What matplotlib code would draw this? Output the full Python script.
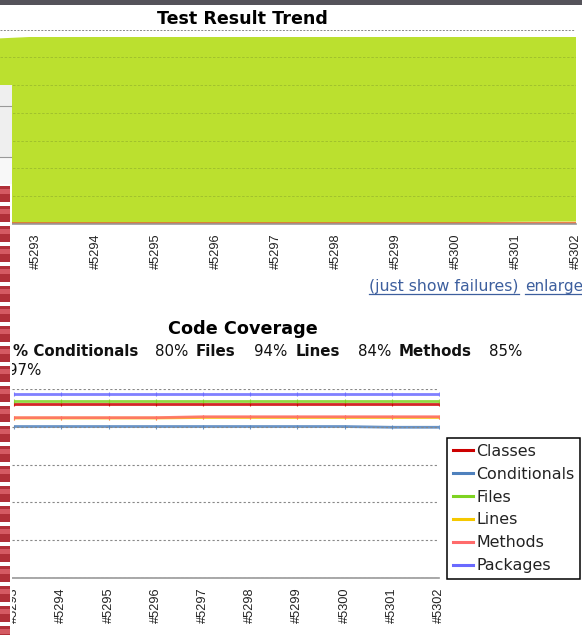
import matplotlib
matplotlib.use('Agg')
import matplotlib.pyplot as plt
from matplotlib.lines import Line2D
from matplotlib.patches import Rectangle

W, H = 582, 635

builds = [5292, 5293, 5294, 5295, 5296, 5297, 5298, 5299, 5300, 5301, 5302]
build_labels = ['#%d' % b for b in builds]

# test result trend (stacked counts)
failed = [12, 12, 12, 12, 12, 12, 12, 12, 12, 12, 12]
skipped = [0, 0, 0, 0, 0, 0, 0, 0, 0, 4, 8]
passed = [1317, 1337, 1337, 1337, 1337, 1337, 1337, 1337, 1337, 1333, 1329]

# code coverage, percent
cov_builds = builds[1:]
classes = [91.9] * 10
conditionals = [80.2, 80.2, 80.2, 80.2, 80.2, 80.2, 80.2, 80.2, 79.8, 79.8]
files = [93.8] * 10
lines = [84.7, 84.7, 84.7, 84.7, 85.0, 85.0, 85.0, 85.0, 85.0, 85.0]
methods = [84.9, 84.9, 84.9, 84.9, 85.4, 85.4, 85.4, 85.4, 85.4, 85.4]
packages = [97.2] * 10

series = [
    ('Classes', classes, '#cc0000'),
    ('Conditionals', conditionals, '#4f81bd'),
    ('Files', files, '#7ed321'),
    ('Lines', lines, '#f5c800'),
    ('Methods', methods, '#ff6b6b'),
    ('Packages', packages, '#6a6aff'),
]


def fx(x):
    return x / W


def fy(y):
    return 1 - y / H


def axes_px(fig, x0, y0, x1, y1):
    return fig.add_axes([fx(x0), fy(y1), (x1 - x0) / W, (y1 - y0) / H])


def px_text(fig, x, y, s, **kw):
    kw.setdefault('va', 'center')
    return fig.text(fx(x), fy(y), s, **kw)


def px_rect(fig, x0, y0, x1, y1, color):
    fig.add_artist(Rectangle((fx(x0), fy(y1)), (x1 - x0) / W, (y1 - y0) / H,
                             facecolor=color, linewidth=0, transform=fig.transFigure))


def style_axes(ax):
    for name in ['top', 'right', 'left']:
        ax.spines[name].set_visible(False)
    ax.spines['bottom'].set_color('#999999')
    ax.spines['bottom'].set_linewidth(1.2)
    ax.set_yticklabels([])
    ax.tick_params(left=False, bottom=False, labelbottom=False)
    ax.set_axisbelow(False)


def build_ticks(ax, xs, labels):
    for b, lab in zip(xs, labels):
        ax.annotate(lab, (b, 0), xycoords=('data', 'axes fraction'), xytext=(0, -7),
                    textcoords='offset points', rotation=90, ha='center', va='top',
                    fontsize=9.2, family='Liberation Sans', color='#222222', annotation_clip=False)


fig = plt.figure(figsize=(W / 100, H / 100), dpi=100, facecolor='white')

# top chart
ax1 = axes_px(fig, 0, 36.7, 576, 224)
ax1.stackplot(builds, failed, skipped, passed, colors=['#e8553a', '#f5d76e', '#bbe02f'])
ax1.set_xlim(5293 - 36 / 60, 5302)
ax1.set_ylim(0, 1349)
ax1.set_yticks(range(0, 1400, 200))
ax1.grid(axis='y', color='#7f9a2a', linestyle=(0, (3, 2)), linewidth=0.6, alpha=0.5)
style_axes(ax1)
build_ticks(ax1, builds[1:], build_labels[1:])

# lower chart
ax2 = axes_px(fig, 12, 389.2, 439, 577.7)
for name, vals, color in series:
    ax2.plot(cov_builds, vals, color=color, linewidth=2, alpha=0.85, solid_capstyle='butt',
             marker='|', markersize=3, markeredgewidth=0.8)
ax2.set_xlim(5302 - 427 / 47.2, 5302)
ax2.set_ylim(0, 100)
ax2.set_yticks(range(0, 120, 20))
ax2.grid(axis='y', color='#888888', linestyle=(0, (2, 2)), linewidth=0.8)
style_axes(ax2)
build_ticks(ax2, cov_builds, build_labels[1:])

handles = [Line2D([], [], color=c, linewidth=2.2, label=n) for n, _, c in series]
leg = fig.legend(handles=handles, loc='upper left',
                 bbox_to_anchor=(fx(447), fy(438)), bbox_transform=fig.transFigure,
                 fontsize=11.4, frameon=True, fancybox=False, framealpha=1,
                 edgecolor='black', borderpad=0.36, labelspacing=0.5,
                 handlelength=1.3, handletextpad=0.2, borderaxespad=0)
leg.get_frame().set_linewidth(1.1)
for t in leg.get_texts():
    t.set_color('#222222')

# titles and page text
px_text(fig, 242, 19, 'Test Result Trend', ha='center', fontsize=12.6, fontweight='bold')
px_text(fig, 242.5, 329, 'Code Coverage', ha='center', fontsize=12.7, fontweight='bold')
fig.add_artist(Line2D([0, fx(575)], [fy(30), fy(30)], color='#888888',
                      linestyle=(0, (2, 1.5)), linewidth=0.7))

px_text(fig, 369, 287, '(just show failures)', color='#3d5f9e', fontsize=11.3)
px_text(fig, 525, 287, 'enlarge', color='#3d5f9e', fontsize=11)
fig.add_artist(Line2D([fx(369), fx(519)], [fy(294), fy(294)], color='#3d5f9e', linewidth=0.9))
fig.add_artist(Line2D([fx(525), fx(581)], [fy(294), fy(294)], color='#3d5f9e', linewidth=0.9))

px_text(fig, 138, 351.5, '% Conditionals', ha='right', fontsize=10.8, fontweight='bold',
        color='#111111', zorder=0.5)
for x, s, bold in [(155, '80%', False), (196, 'Files', True), (254, '94%', False),
                   (296, 'Lines', True), (358, '84%', False), (399, 'Methods', True),
                   (489, '85%', False)]:
    px_text(fig, x, 351.5, s, fontsize=10.8, fontweight='bold' if bold else 'normal', color='#111111')
px_text(fig, 41, 370.5, '97%', ha='right', fontsize=10.8, color='#111111', zorder=0.5)

# page furniture on the left and top
px_rect(fig, 0, 0, W, 4.5, '#55535a')
px_rect(fig, 0, 184, 11.5, H, 'white')
px_rect(fig, 0, 85, 12, 157, '#efefef')
px_rect(fig, 0, 157, 12, 184, '#f8f8f8')
for y in [105.5, 156.5]:
    fig.add_artist(Line2D([0, fx(11)], [fy(y), fy(y)], color='#999999', linewidth=0.8))
for i in range(23):
    y = 186 + 20 * i
    px_rect(fig, 0, y, 9.5, y + 16, '#b03038')
    px_rect(fig, 0, y + 3, 9.5, y + 8, '#d45a62')

fig.savefig('out.png', dpi=100)
